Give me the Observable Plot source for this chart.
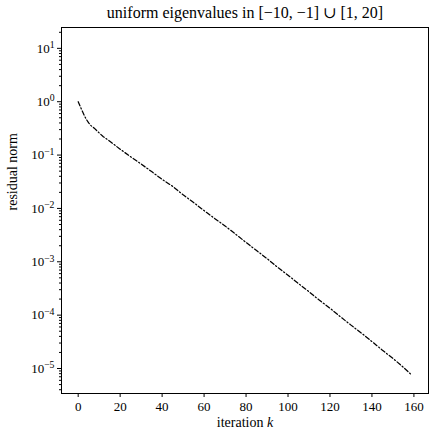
<!DOCTYPE html>
<html>
<head>
<meta charset="utf-8">
<script src="https://cdn.jsdelivr.net/npm/d3@7"></script>
<script src="https://cdn.jsdelivr.net/npm/@observablehq/plot@0.6"></script>
<style>
  html, body { margin: 0; padding: 0; background: #fff; }
  #chart svg { display: block; }
  #chart svg, #chart svg text { font-family: "Liberation Serif", "DejaVu Serif", serif !important; }
</style>
</head>
<body>
<div id="chart"></div>
<script>
// Data
const iterations = [0, 1, 2, 3, 4, 5, 6, 8, 10, 12, 14, 16, 18, 20, 25, 30, 35, 40, 45, 50, 55, 60, 65, 70, 75, 80, 85, 90, 95, 100, 105, 110, 115, 120, 125, 130, 135, 140, 145, 150, 155, 159];
const residuals = [1.0, 0.81, 0.66, 0.54, 0.46, 0.40, 0.36, 0.31, 0.26, 0.22, 0.195, 0.17, 0.148, 0.129, 0.093, 0.068, 0.049, 0.035, 0.026, 0.018, 0.0129, 0.0091, 0.0065, 0.0047, 0.0033, 0.0023, 0.00162, 0.00115, 0.00079, 0.00056, 0.00039, 0.000275, 0.00019, 0.000135, 0.000093, 0.000065, 0.000046, 0.000032, 0.000022, 0.0000155, 0.0000105, 0.0000075];

const xTicks = [0, 20, 40, 60, 80, 100, 120, 140, 160];
const yTicks = [1e-5, 1e-4, 1e-3, 1e-2, 1e-1, 1e0, 1e1];
const yTickExponents = ["−5", "−4", "−3", "−2", "−1", "0", "1"];
const titleText = "uniform eigenvalues in [−10, −1] ∪ [1, 20]";
const xLabel = "iteration k";
const yLabel = "residual norm";

const rows = iterations.map((k, i) => ({k, r: residuals[i]}));

const yDomain = [3.4e-6, 24.6];
const minorTicks = [];
for (let e = -6; e <= 1; e++) {
  for (let m = 2; m <= 9; m++) {
    const v = m * Math.pow(10, e);
    if (v >= yDomain[0] && v <= yDomain[1]) minorTicks.push(v);
  }
}

const yFormat = d => {
  const j = yTicks.findIndex(t => Math.abs(Math.log10(t) - Math.log10(d)) < 1e-6);
  return j >= 0 ? "10^" + yTickExponents[j] : "";
};

const chart = Plot.plot({
  width: 429,
  height: 430,
  marginTop: 27,
  marginBottom: 37,
  marginLeft: 61,
  marginRight: 1,
  style: {fontSize: "13px", color: "black", background: "white"},
  x: {domain: [-7.95, 166.95]},
  y: {type: "log", domain: yDomain},
  marks: [
    Plot.frame({stroke: "black", strokeWidth: 1}),
    Plot.axisX(xTicks, {tickSize: 4, tickPadding: 4, label: null, tickFormat: d => String(d)}),
    Plot.axisY(minorTicks, {tickSize: 2, tickFormat: () => "", label: null}),
    Plot.axisY(yTicks, {tickSize: 4, tickPadding: 3, label: null, tickFormat: yFormat}),
    Plot.line(rows, {x: "k", y: "r", stroke: "black", strokeWidth: 1.25, strokeDasharray: "4.5,2.2,1.2,2.2"}),
    Plot.text([titleText], {frameAnchor: "top", dy: -15, lineAnchor: "middle", fontSize: 16}),
    Plot.text([xLabel], {frameAnchor: "bottom", dy: 29, lineAnchor: "middle", fontSize: 14}),
    Plot.text([yLabel], {frameAnchor: "left", dx: -49, lineAnchor: "middle", rotate: -90, fontSize: 14})
  ]
});

document.getElementById("chart").appendChild(chart);

// superscript exponents & italic k
d3.select(chart).selectAll("text").each(function() {
  const t = this.textContent;
  const sel = d3.select(this);
  if (/^10\^/.test(t)) {
    const exp = t.slice(3);
    sel.text(null);
    sel.append("tspan").text("10");
    sel.append("tspan").attr("dy", "-0.45em").attr("font-size", "0.75em").text(exp);
  } else if (t === xLabel) {
    sel.text(null);
    sel.append("tspan").text("iteration ");
    sel.append("tspan").attr("font-style", "italic").text("k");
  }
});
</script>
</body>
</html>
